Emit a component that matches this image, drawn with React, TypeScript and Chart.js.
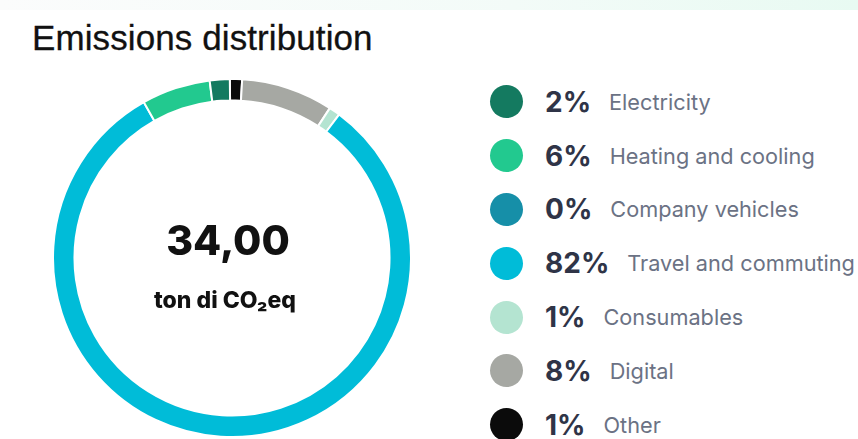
import React, { useEffect, useRef } from "react";
import { Chart, registerables } from "chart.js";

Chart.register(...registerables);

const title = "Emissions distribution";
const totalLabel = "34,00";
const unitLabel = "ton di CO₂eq";
const categories = [
  "Electricity",
  "Heating and cooling",
  "Company vehicles",
  "Travel and commuting",
  "Consumables",
  "Digital",
  "Other",
];
const shares = [1.8, 6.2, 0, 81.6, 1.0, 8.3, 1.1];
const colors = ["#147a60", "#22c98f", "#168fa8", "#00bcd8", "#b4e4d1", "#a6a8a3", "#0b0b0b"];

export default function App() {
  const ref = useRef<HTMLCanvasElement | null>(null);

  useEffect(() => {
    if (!ref.current) return;
    // ring is drawn counter-clockwise in legend order -> reverse for clockwise drawing
    const labels = [...categories].reverse();
    const data = [...shares].reverse();
    const bg = [...colors].reverse();
    const chart = new Chart(ref.current, {
      type: "doughnut",
      data: {
        labels,
        datasets: [
          {
            data,
            backgroundColor: bg,
            borderColor: "#ffffff",
            borderWidth: 2,
          },
        ],
      },
      options: {
        animation: false,
        responsive: false,
        maintainAspectRatio: false,
        devicePixelRatio: 1,
        cutout: "88%",
        rotation: -0.7,
        layout: { padding: 0 },
        plugins: {
          legend: { display: false },
          tooltip: { enabled: false },
        },
      },
    });
    return () => chart.destroy();
  }, []);

  return (
    <div
      style={{
        position: "fixed",
        left: 0,
        top: 0,
        width: 858,
        height: 439,
        background: "#ffffff",
        overflow: "hidden",
        fontFamily: "Inter, 'Noto Sans', sans-serif",
      }}
    >
      <div
        style={{
          position: "absolute",
          left: 0,
          top: 0,
          width: 858,
          height: 10,
          background: "linear-gradient(90deg, #fbfcfc 0%, #f3fbf8 60%, #e8faf2 100%)",
        }}
      />
      <div
        style={{
          position: "absolute",
          left: 32,
          top: 18,
          fontFamily: "'Liberation Sans', Arial, sans-serif",
          fontSize: 35,
          fontWeight: 400,
          color: "#111111",
          letterSpacing: 0.1,
          lineHeight: "40px",
          whiteSpace: "nowrap",
          WebkitTextStroke: "0.3px #111111",
        }}
      >
        {title}
      </div>
      <canvas
        ref={ref}
        width={360}
        height={360}
        style={{ position: "absolute", left: 52, top: 78, width: 360, height: 360 }}
      />
      <div
        style={{
          position: "absolute",
          left: 128,
          top: 216,
          width: 200,
          textAlign: "center",
          fontSize: 41,
          fontWeight: 800,
          color: "#111111",
          lineHeight: "48px",
        }}
      >
        {totalLabel}
      </div>
      <div
        style={{
          position: "absolute",
          left: 115,
          top: 285,
          width: 220,
          textAlign: "center",
          fontSize: 23,
          fontWeight: 800,
          color: "#111111",
          lineHeight: "30px",
        }}
      >
        {unitLabel}
      </div>
      <div style={{ position: "absolute", left: 490, top: 75 }}>
        {categories.map((c, i) => (
          <div
            key={c}
            style={{ display: "flex", alignItems: "center", height: 53.8, whiteSpace: "nowrap" }}
          >
            <div
              style={{
                width: 33,
                height: 33,
                borderRadius: "50%",
                background: colors[i],
                flex: "0 0 auto",
              }}
            />
            <span
              style={{
                marginLeft: 22,
                fontSize: 28,
                fontWeight: 700,
                color: "#2f3447",
              }}
            >
              {Math.round(shares[i])}%
            </span>
            <span
              style={{
                marginLeft: 18,
                fontSize: 21.7,
                fontWeight: 400,
                color: "#6b7284",
              }}
            >
              {c}
            </span>
          </div>
        ))}
      </div>
    </div>
  );
}
